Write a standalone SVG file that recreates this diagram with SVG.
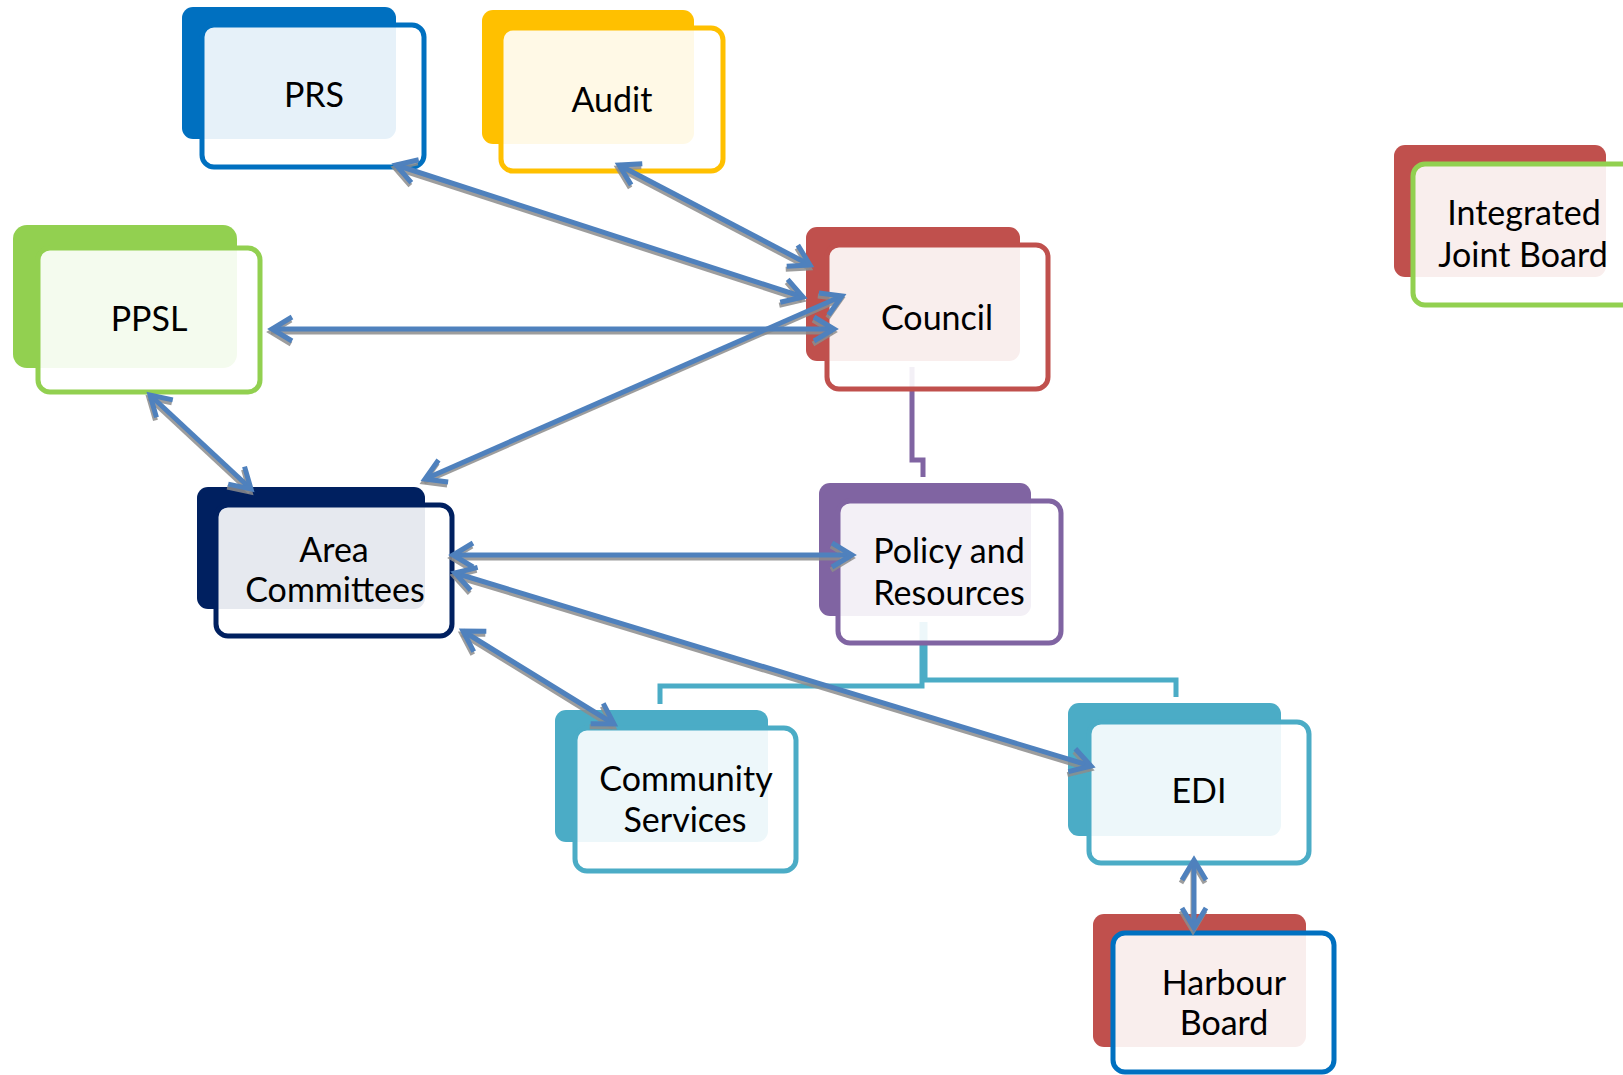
<svg xmlns="http://www.w3.org/2000/svg" width="1623" height="1075" viewBox="0 0 1623 1075">
<style>
.back{stroke:none}
.front{fill:#FFFFFF;fill-opacity:0.9;stroke-width:5}
.lbl{font-family:Lato,"Liberation Sans",sans-serif;font-size:34px;fill:#000;text-anchor:middle}
.tree{fill:none;stroke-width:5}
.arr{fill:none;stroke:#4F81BD;stroke-width:5;marker-start:url(#hb);marker-end:url(#hb)}
.sh{fill:none;stroke:#8C8C8C;stroke-opacity:0.85;stroke-width:5;marker-start:url(#hs);marker-end:url(#hs)}
</style>
<defs>
<marker id="hb" markerUnits="userSpaceOnUse" orient="auto-start-reverse" markerWidth="40" markerHeight="40" refX="0" refY="0" viewBox="-30 -20 40 40" overflow="visible">
<path d="M-20,-12 L0,0 L-20,12" fill="none" stroke="#4F81BD" stroke-width="5"/>
</marker>
<marker id="hs" markerUnits="userSpaceOnUse" orient="auto-start-reverse" markerWidth="40" markerHeight="40" refX="0" refY="0" viewBox="-30 -20 40 40" overflow="visible">
<path d="M-20,-12 L0,0 L-20,12" fill="none" stroke="#8C8C8C" stroke-opacity="0.85" stroke-width="5"/>
</marker>
</defs>
<rect width="1623" height="1075" fill="#FFFFFF"/>
<g id="tree-connectors">
<path class="tree" stroke="#8064A2" d="M912,367 V460 H923 V477"/>
<path class="tree" stroke="#4BACC6" d="M922,622 V686 H660 V704"/>
<path class="tree" stroke="#4BACC6" d="M925,622 V680 H1176 V697"/>
</g>
<g id="node-prs">
<rect class="back" x="182" y="7" width="214" height="132" rx="11" fill="#0070C0"/>
<rect class="front" x="202" y="25" width="222" height="142" rx="12" stroke="#0070C0"/>
<text class="lbl" x="314" y="107">PRS</text>
</g>
<g id="node-audit">
<rect class="back" x="482" y="10" width="212" height="134" rx="11" fill="#FFC000"/>
<rect class="front" x="501" y="28" width="222" height="143" rx="12" stroke="#FFC000"/>
<text class="lbl" x="612" y="112">Audit</text>
</g>
<g id="node-ppsl">
<rect class="back" x="13" y="225" width="224" height="143" rx="14" fill="#92D050"/>
<rect class="front" x="38" y="248" width="222" height="144" rx="12" stroke="#92D050"/>
<text class="lbl" x="149" y="331">PPSL</text>
</g>
<g id="node-council">
<rect class="back" x="806" y="227" width="214" height="134" rx="11" fill="#C0504D"/>
<rect class="front" x="827" y="245" width="221" height="144" rx="12" stroke="#C0504D"/>
<text class="lbl" x="937" y="330">Council</text>
</g>
<g id="node-ijb">
<rect class="back" x="1394" y="145" width="212" height="132" rx="11" fill="#C0504D"/>
<rect class="front" x="1413" y="164" width="222" height="141" rx="12" stroke="#92D050"/>
<text class="lbl" x="1524" y="225">Integrated</text>
<text class="lbl" x="1523" y="267">Joint Board</text>
</g>
<g id="node-area">
<rect class="back" x="197" y="487" width="228" height="122" rx="11" fill="#002060"/>
<rect class="front" x="216" y="505" width="236" height="131" rx="12" stroke="#002060"/>
<text class="lbl" x="334" y="562">Area</text>
<text class="lbl" x="335" y="602">Committees</text>
</g>
<g id="node-policy">
<rect class="back" x="819" y="483" width="212" height="133" rx="11" fill="#8064A2"/>
<rect class="front" x="838" y="501" width="223" height="142" rx="12" stroke="#8064A2"/>
<text class="lbl" x="949" y="563">Policy and</text>
<text class="lbl" x="949" y="605">Resources</text>
</g>
<g id="node-community">
<rect class="back" x="555" y="710" width="213" height="132" rx="11" fill="#4BACC6"/>
<rect class="front" x="575" y="728" width="221" height="143" rx="12" stroke="#4BACC6"/>
<text class="lbl" x="686" y="791">Community</text>
<text class="lbl" x="685" y="832">Services</text>
</g>
<g id="node-edi">
<rect class="back" x="1068" y="703" width="213" height="133" rx="11" fill="#4BACC6"/>
<rect class="front" x="1089" y="722" width="220" height="141" rx="12" stroke="#4BACC6"/>
<text class="lbl" x="1199" y="803">EDI</text>
</g>
<g id="node-harbour">
<rect class="back" x="1093" y="914" width="213" height="133" rx="11" fill="#C0504D"/>
<rect class="front" x="1113" y="933" width="221" height="139" rx="12" stroke="#0070C0"/>
<text class="lbl" x="1224" y="995">Harbour</text>
<text class="lbl" x="1224" y="1035">Board</text>
</g>
<g id="connectors">
<g id="shadows" transform="translate(-1,3)">
<path class="sh" d="M396,165 L803,297"/>
<path class="sh" d="M619,165 L810,265"/>
<path class="sh" d="M272,329 L834,329"/>
<path class="sh" d="M425,479 L842,296"/>
<path class="sh" d="M150,395 L251,489"/>
<path class="sh" d="M453,555 L852,555"/>
<path class="sh" d="M455,573 L1091,766"/>
<path class="sh" d="M463,631 L614,724"/>
<path class="sh" d="M1194,860 L1194,928"/>
</g>
<g id="arrows">
<path class="arr" d="M396,165 L803,297"/>
<path class="arr" d="M619,165 L810,265"/>
<path class="arr" d="M272,329 L834,329"/>
<path class="arr" d="M425,479 L842,296"/>
<path class="arr" d="M150,395 L251,489"/>
<path class="arr" d="M453,555 L852,555"/>
<path class="arr" d="M455,573 L1091,766"/>
<path class="arr" d="M463,631 L614,724"/>
<path class="arr" d="M1194,860 L1194,928"/>
</g>
</g>
</svg>
